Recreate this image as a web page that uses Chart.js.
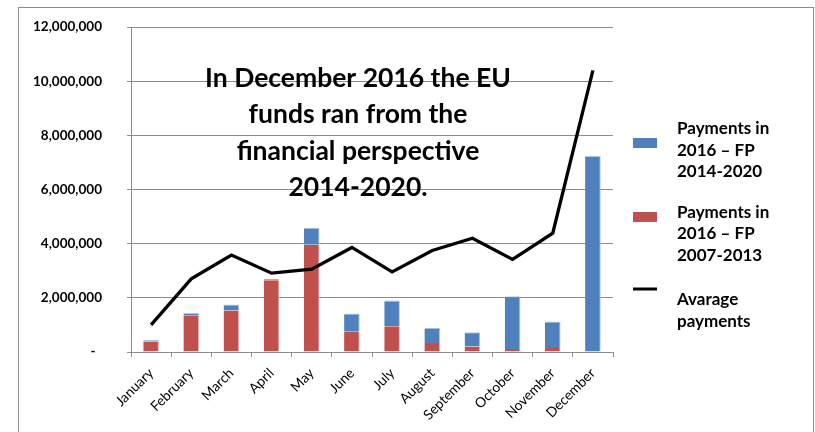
<!DOCTYPE html>
<html>
<head>
<meta charset="utf-8">
<script src="https://cdn.jsdelivr.net/npm/chart.js@4.4.0/dist/chart.umd.min.js"></script>
<style>
  body { margin: 0; background: #fff; }
  #frame { position: absolute; left: 18px; top: 7px; width: 796px; height: 440px; border: 1px solid #8c8c8c; box-sizing: border-box; }
  #myChart { position: absolute; left: 0; top: 0; }
</style>
</head>
<body>
<div id="frame"></div>
<canvas id="myChart" width="815" height="432"></canvas>
<script>
// months on the x axis
var mesi = ['January', 'February', 'March', 'April', 'May', 'June', 'July',
  'August', 'September', 'October', 'November', 'December'];

// payments from the old financial perspective (bottom of the stack)
var pagamentiFP0713 = [390000, 1340000, 1530000, 2650000, 3960000, 750000, 950000,
  330000, 200000, 110000, 150000, 0];

// payments from the new financial perspective (top of the stack)
var pagamentiFP1420 = [50000, 100000, 220000, 50000, 630000, 670000, 950000,
  570000, 530000, 1950000, 980000, 7240000];

// average payments line
var mediaPagamenti = [1000000, 2700000, 3580000, 2910000, 3060000, 3860000, 2960000,
  3750000, 4200000, 3420000, 4390000, 10400000];

var yTicks = [0, 2000000, 4000000, 6000000, 8000000, 10000000, 12000000];

var nomiSerie = {
  fp1420: ['Payments in', '2016 \u2013 FP', '2014-2020'],
  fp0713: ['Payments in', '2016 \u2013 FP', '2007-2013'],
  media: ['Avarage', 'payments']
};

var noteTesto = ['In December 2016 the EU', 'funds ran from the',
  'financial perspective', '2014-2020.'];

var blu = '#4f81bd';
var rosso = '#c0504d';
var fontName = 'Lato, "Open Sans", sans-serif';

// big bold note over the plot
var notaPlugin = {
  id: 'nota',
  afterDatasetsDraw: function(chart) {
    var ctx = chart.ctx;
    ctx.save();
    ctx.fillStyle = '#000';
    ctx.font = 'bold 26.5px ' + fontName;
    ctx.textAlign = 'center';
    ctx.textBaseline = 'alphabetic';
    for (var i = 0; i < noteTesto.length; i++) {
      ctx.fillText(noteTesto[i], 358, 87 + i * 36.3);
    }
    ctx.restore();
  }
};

// legend on the right, with labels on several lines
var legendaPlugin = {
  id: 'legendaDestra',
  afterDraw: function(chart) {
    var ctx = chart.ctx;
    var voci = [
      { righe: nomiSerie.fp1420, colore: blu, tipo: 'box', y0: 138, base: 134 },
      { righe: nomiSerie.fp0713, colore: rosso, tipo: 'box', y0: 212, base: 217.5 },
      { righe: nomiSerie.media, colore: '#000', tipo: 'line', y0: 289, base: 305 }
    ];
    ctx.save();
    ctx.font = 'bold 17px ' + fontName;
    ctx.textAlign = 'left';
    ctx.textBaseline = 'alphabetic';
    for (var i = 0; i < voci.length; i++) {
      var v = voci[i];
      if (v.tipo === 'box') {
        ctx.fillStyle = v.colore;
        ctx.fillRect(633, v.y0, 24, 10);
      } else {
        ctx.strokeStyle = v.colore;
        ctx.lineWidth = 3;
        ctx.beginPath();
        ctx.moveTo(633, v.y0);
        ctx.lineTo(657, v.y0);
        ctx.stroke();
      }
      ctx.fillStyle = '#000';
      for (var r = 0; r < v.righe.length; r++) {
        ctx.fillText(v.righe[r], 677, v.base + r * 21.7);
      }
    }
    ctx.restore();
  }
};

var ctx = document.getElementById('myChart');
var chart = new Chart(ctx, {
  type: 'bar',
  data: {
    labels: mesi,
    datasets: [{
      type: 'line',
      label: nomiSerie.media.join(' '),
      data: mediaPagamenti,
      borderColor: '#000',
      backgroundColor: '#000',
      borderWidth: 3.3,
      pointRadius: 0,
      tension: 0,
      stack: 'media',
      order: 0
    }, {
      label: nomiSerie.fp0713.join(' '),
      data: pagamentiFP0713,
      backgroundColor: rosso,
      borderColor: '#e2b4b3',
      borderWidth: { right: 1, left: 0, top: 0, bottom: 0 },
      stack: 'pagamenti',
      order: 1
    }, {
      label: nomiSerie.fp1420.join(' '),
      data: pagamentiFP1420,
      backgroundColor: blu,
      borderColor: '#b3c8e3',
      borderWidth: { right: 1, left: 0, top: 1, bottom: 0 },
      stack: 'pagamenti',
      order: 1
    }]
  },
  options: {
    responsive: false,
    animation: false,
    devicePixelRatio: 1,
    layout: { autoPadding: false, padding: { top: 27, right: 202, left: 0, bottom: 0 } },
    datasets: {
      bar: { categoryPercentage: 1, barPercentage: 0.39 }
    },
    plugins: {
      legend: { display: false },
      tooltip: { enabled: false }
    },
    scales: {
      x: {
        stacked: true,
        grid: { drawOnChartArea: false, drawTicks: true, tickLength: 5, color: '#8c8c8c' },
        border: { color: '#8c8c8c' },
        ticks: {
          color: '#000',
          font: { family: fontName, size: 13.8 },
          maxRotation: 45,
          minRotation: 45,
          padding: 8,
          autoSkip: false
        },
        afterFit: function(scale) { scale.height = 80; }
      },
      y: {
        stacked: true,
        min: 0,
        max: 12000000,
        afterBuildTicks: function(scale) {
          scale.ticks = yTicks.map(function(v) { return { value: v }; });
        },
        grid: { color: '#8c8c8c', tickLength: 4 },
        border: { color: '#8c8c8c' },
        ticks: {
          color: '#000',
          padding: 25,
          font: { family: fontName, size: 13.5, weight: 'bold' },
          callback: function(value) {
            if (value === 0) return '-  ';
            return value.toLocaleString('en-US');
          }
        },
        afterFit: function(scale) {
          // the tick padding is only horizontal here, keep it out of the top gap
          scale.width = 131;
          scale.paddingTop = 0;
          scale.paddingBottom = 0;
        }
      }
    }
  },
  plugins: [notaPlugin, legendaPlugin]
});
</script>
</body>
</html>
